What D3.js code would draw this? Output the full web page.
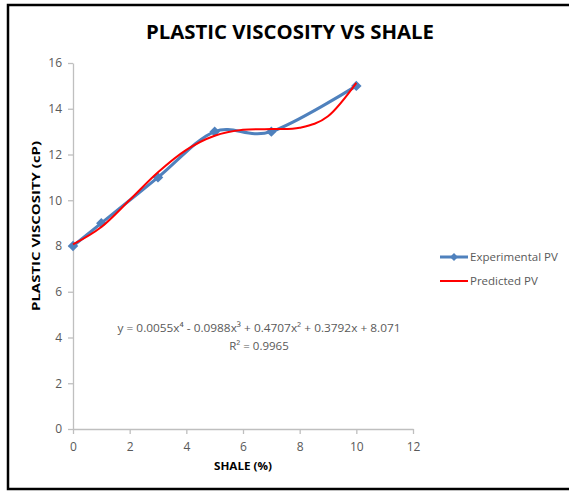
<!DOCTYPE html>
<html><head><meta charset="utf-8">
<script src="https://cdn.jsdelivr.net/npm/d3@7"></script>
<style>body{margin:0;background:#fff}svg{display:block}</style>
</head><body>
<svg id="c" width="569" height="491"></svg>
<script>
const title = "PLASTIC VISCOSITY VS SHALE";
const xLabel = "SHALE (%)";
const yLabel = "PLASTIC VISCOSITY (cP)";
const shale = [0, 1, 3, 5, 7, 10];
const experimentalPV = [8, 9, 11, 13, 13, 15];
const predX = [0, 1, 2, 3, 4, 5, 6, 7, 8, 9, 10];
const predictedPV = [8.07, 8.83, 10.01, 11.22, 12.20, 12.82, 13.08, 13.11, 13.17, 13.67, 15.13];
const xTicks = [0, 2, 4, 6, 8, 10, 12];
const yTicks = [0, 2, 4, 6, 8, 10, 12, 14, 16];
const seriesNames = ["Experimental PV", "Predicted PV"];
const equation = "y = 0.0055x\u2074 - 0.0988x\u00B3 + 0.4707x\u00B2 + 0.3792x + 8.071";
const r2 = "R\u00B2 = 0.9965";

const svg = d3.select("#c");
const font = "'Open Sans', 'Liberation Sans', sans-serif";
svg.append("rect").attr("x", 8).attr("y", 5).attr("width", 580).attr("height", 484)
  .attr("fill", "#fff").attr("stroke", "#000").attr("stroke-width", 2.5);

const x = d3.scaleLinear().domain([0, 12]).range([73, 413]);
const y = d3.scaleLinear().domain([0, 16]).range([429, 63]);
const axisColor = "#bfbfbf", textColor = "#595959";

const gx = svg.append("g").attr("transform", `translate(0,${y(0)})`)
  .call(d3.axisBottom(x).tickValues(xTicks).tickSize(5).tickSizeOuter(0).tickPadding(6));
const gy = svg.append("g").attr("transform", `translate(${x(0)},0)`)
  .call(d3.axisLeft(y).tickValues(yTicks).tickSize(5).tickSizeOuter(0).tickPadding(6));
[gx, gy].forEach(g => {
  g.select(".domain").attr("stroke", axisColor).attr("stroke-width", 1.3);
  g.selectAll(".tick line").attr("stroke", axisColor).attr("stroke-width", 1.3);
  g.selectAll(".tick text").attr("fill", textColor).style("font-family", font).style("font-size", "12px");
});
gx.selectAll(".tick text").attr("dy", "0.9em");

svg.append("text").attr("x", 290).attr("y", 39).attr("text-anchor", "middle")
  .style("font-family", font).style("font-weight", "bold").style("font-size", "19px")
  .attr("textLength", 288).attr("lengthAdjust", "spacingAndGlyphs").text(title);
svg.append("text").attr("x", 243).attr("y", 470).attr("text-anchor", "middle")
  .style("font-family", font).style("font-weight", "bold").style("font-size", "11px")
  .attr("textLength", 58).attr("lengthAdjust", "spacingAndGlyphs")
  .attr("fill", "#000").text(xLabel);
svg.append("text").attr("transform", "translate(40,226) rotate(-90)").attr("text-anchor", "middle")
  .style("font-family", font).style("font-weight", "bold").style("font-size", "11px")
  .attr("textLength", 170).attr("lengthAdjust", "spacingAndGlyphs")
  .attr("fill", "#000").text(yLabel);

const blue = "#4f81bd", red = "#ff0000";
const lineB = d3.line().x((d, i) => x(shale[i])).y(d => y(d)).curve(d3.curveCardinal.tension(0));
svg.append("path").datum(experimentalPV).attr("d", lineB).attr("fill", "none")
  .attr("stroke", blue).attr("stroke-width", 3);
const diamond = d3.symbol().type(d3.symbolDiamond2).size(70);
svg.selectAll(".m").data(experimentalPV).join("path")
  .attr("transform", (d, i) => `translate(${x(shale[i])},${y(d)})`)
  .attr("d", diamond).attr("fill", blue);

const lineR = d3.line().x((d, i) => x(predX[i])).y(d => y(d)).curve(d3.curveCardinal.tension(0));
svg.append("path").datum(predictedPV).attr("d", lineR).attr("fill", "none")
  .attr("stroke", red).attr("stroke-width", 2);

// legend
const lg = svg.append("g");
lg.append("line").attr("x1", 440).attr("x2", 468).attr("y1", 257).attr("y2", 257).attr("stroke", blue).attr("stroke-width", 3);
lg.append("path").attr("transform", "translate(454,257)").attr("d", d3.symbol().type(d3.symbolDiamond2).size(40)).attr("fill", blue);
lg.append("line").attr("x1", 440).attr("x2", 468).attr("y1", 281).attr("y2", 281).attr("stroke", red).attr("stroke-width", 2);
lg.selectAll("text").data(seriesNames).join("text")
  .attr("x", 470).attr("y", (d, i) => 261 + i * 24)
  .style("font-family", font).style("font-size", "11.5px").attr("fill", textColor).text(d => d);

svg.append("text").attr("x", 259).attr("y", 332).attr("text-anchor", "middle")
  .style("font-family", font).style("font-size", "11.5px").attr("fill", textColor)
  .attr("textLength", 283).attr("lengthAdjust", "spacingAndGlyphs").text(equation);
svg.append("text").attr("x", 259).attr("y", 350).attr("text-anchor", "middle")
  .style("font-family", font).style("font-size", "11.5px").attr("fill", textColor).text(r2);
</script>
</body></html>
